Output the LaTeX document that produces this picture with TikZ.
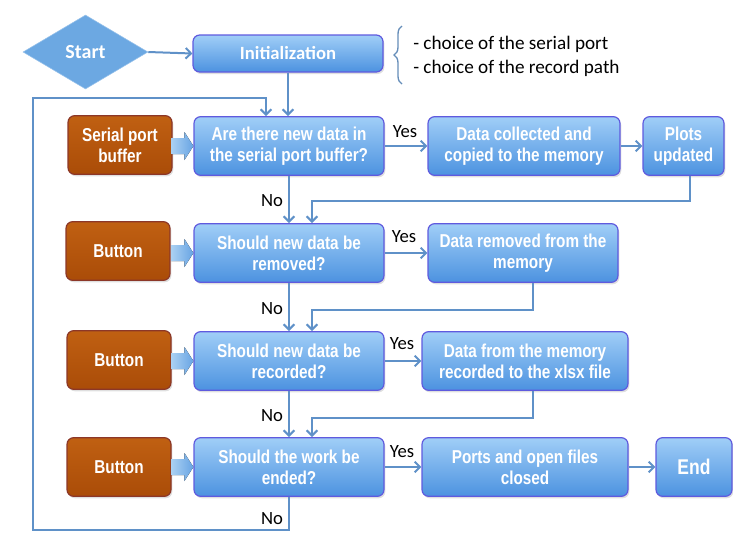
\documentclass[tikz,border=0pt]{standalone}
\usepackage{fontspec}
\setmainfont{Carlito}
\newfontfamily\boxfont[FakeStretch=0.82]{Liberation Sans}
\usetikzlibrary{shapes.geometric,arrows.meta,calc,decorations.pathreplacing,shadows}
\definecolor{btop}{RGB}{160,206,247}
\definecolor{bbot}{RGB}{76,146,224}
\definecolor{bbord}{RGB}{95,90,222}
\definecolor{rtop}{RGB}{192,96,18}
\definecolor{rbot}{RGB}{170,76,8}
\definecolor{rbord}{RGB}{140,55,40}
\definecolor{lnc}{RGB}{95,145,200}
\definecolor{dfill}{RGB}{108,168,226}
\definecolor{arrL}{RGB}{170,208,242}
\definecolor{arrR}{RGB}{104,164,228}
\tikzset{
  bx/.style={rounded corners=5pt, draw=bbord, line width=0.9pt, top color=btop, bottom color=bbot,
    text=white, font=\boxfont\bfseries\fontsize{14}{16}\selectfont, align=center,
    minimum width=142.5pt, minimum height=44pt, inner sep=2pt,
    drop shadow={opacity=0.25, shadow xshift=1pt, shadow yshift=-1.5pt}},
  brn/.style={rounded corners=5pt, draw=rbord, line width=0.9pt, top color=rtop, bottom color=rbot,
    text=white, font=\boxfont\bfseries\fontsize{14}{16}\selectfont, align=center,
    minimum width=78pt, minimum height=44pt, inner sep=2pt,
    drop shadow={opacity=0.25, shadow xshift=1pt, shadow yshift=-1.5pt}},
  conn/.style={draw=lnc, line width=1.5pt, -{Straight Barb[length=4pt,width=8pt]}},
  lbl/.style={font=\fontsize{14}{16}\selectfont, text=black, inner sep=0pt},
  blk/.style={left color=arrL, right color=arrR}
}
\begin{document}
\begin{tikzpicture}[x=0.75pt,y=-0.75pt]
\useasboundingbox (0,0) rectangle (733,544);
% nodes
\node[diamond, draw=dfill!70!white, fill=dfill, minimum width=93.75pt, minimum height=55.5pt, inner sep=0pt,
  text=white, font=\bfseries\fontsize{15}{17}\selectfont] (start) at (85.5,52) {Start};
\node[bx, minimum height=27.75pt, font=\bfseries\fontsize{14}{16}\selectfont] (init) at (288,53.5) {Initialization};
\node[lbl, align=left, font=\fontsize{14.4}{18}\selectfont, anchor=west] (notes) at (413,56) {- choice of the serial port\\- choice of the record path};
\draw[draw=lnc!80!gray, line width=1pt, decoration={brace,amplitude=6pt}, decorate] (402,84) -- (402,26);
\node[bx] (q1) at (289,146) {Are there new data in\\the serial port buffer?};
\node[brn] (buf) at (120,145) {Serial port\\buffer};
\node[bx, minimum width=144pt] (dc) at (524,146) {Data collected and\\copied to the memory};
\node[bx, minimum width=60.75pt] (plots) at (683.5,146) {Plots\\updated};
\node[bx] (q2) at (289,253) {Should new data be\\removed?};
\node[brn] (b2) at (118,251) {Button};
\node[bx] (dr) at (523,253) {Data removed from the\\memory};
\node[bx] (q3) at (289,361) {Should new data be\\recorded?};
\node[brn] (b3) at (119,360) {Button};
\node[bx, minimum width=154.5pt] (dm) at (525,361) {Data from the memory\\recorded to the xlsx file};
\node[bx] (q4) at (289,467) {Should the work be\\ended?};
\node[brn] (b4) at (119,467) {Button};
\node[bx, minimum width=154.5pt] (pc) at (525,467) {Ports and open files\\closed};
\node[bx, minimum width=57pt, font=\boxfont\bfseries\fontsize{16}{18}\selectfont] (end) at (694,467) {End};
% labels
\node[lbl] (y1) at (405,132) {Yes};
\node[lbl] (y2) at (404,237) {Yes};
\node[lbl] (y3) at (402,344) {Yes};
\node[lbl] (y4) at (402,452) {Yes};
\node[lbl] (n1) at (272,201) {No};
\node[lbl] (n2) at (272,309) {No};
\node[lbl] (n3) at (272,416) {No};
\node[lbl] (n4) at (272,519) {No};
% coordinates
\coordinate (lb) at (33,530);
\coordinate (lt) at (33,98);
\coordinate (r1) at (690,201);
\coordinate (r2) at (533,310);
\coordinate (r3) at (533,418);
% block arrows
\foreach \q in {q1,q2,q3,q4}{
  \fill[blk] ($(\q.west)+(-22,-8)$) -- ($(\q.west)+(-9,-8)$) -- ($(\q.west)+(-9,-14)$) -- (\q.west)
    -- ($(\q.west)+(-9,14)$) -- ($(\q.west)+(-9,8)$) -- ($(\q.west)+(-22,8)$) -- cycle;
}
% connectors
\draw[conn] (start.east) -- (init.west);
\draw[conn] (init.south) -- (init.south |- q1.north);
\draw[conn] (q4.south) |- (lb) -- (lt) -| ([xshift=-17.25pt]q1.north);
\draw[conn] (q1.east) -- (dc.west);
\draw[conn] (dc.east) -- (plots.west);
\draw[conn] (plots.south -| r1) -- (r1) -| ([xshift=17.25pt]q2.north);
\draw[conn] (q1.south) -- (q2.north);
\draw[conn] (q2.east) -- (dr.west);
\draw[conn] (dr.south -| r2) -- (r2) -| ([xshift=17.25pt]q3.north);
\draw[conn] (q2.south) -- (q3.north);
\draw[conn] (q3.east) -- (dm.west);
\draw[conn] (dm.south -| r3) -- (r3) -| ([xshift=17.25pt]q4.north);
\draw[conn] (q3.south) -- (q4.north);
\draw[conn] (q4.east) -- (pc.west);
\draw[conn] (pc.east) -- (end.west);
\end{tikzpicture}
\end{document}
